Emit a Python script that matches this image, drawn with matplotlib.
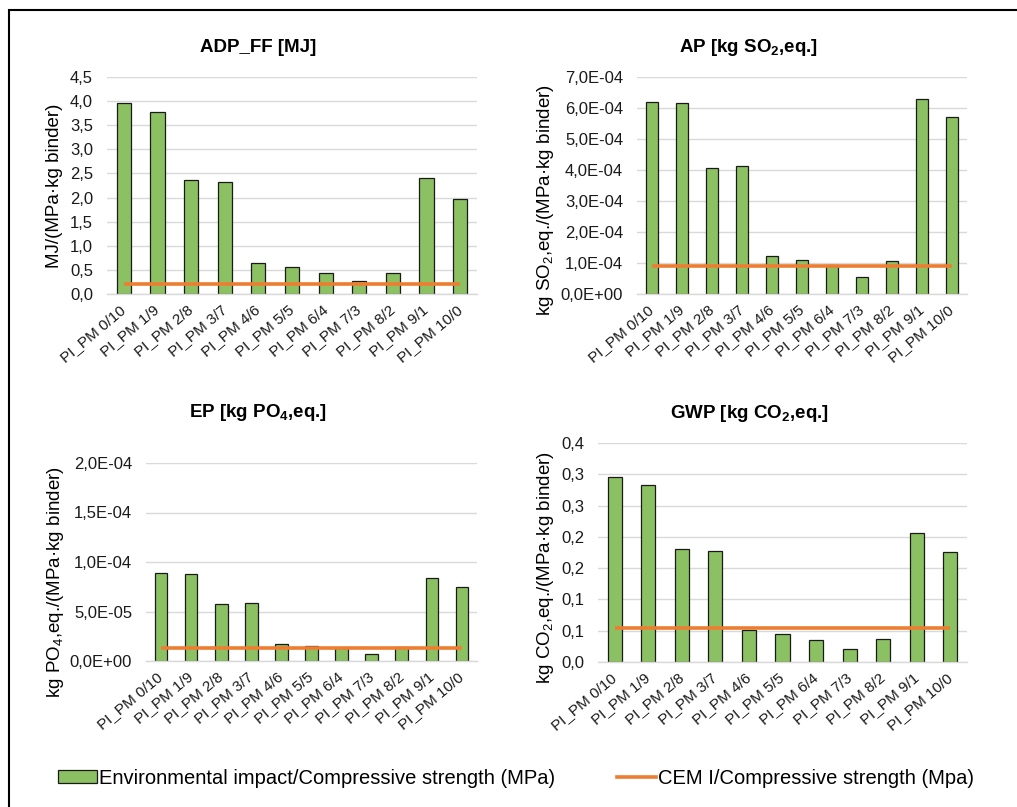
import matplotlib
matplotlib.use("Agg")
import matplotlib.pyplot as plt
from matplotlib.patches import Rectangle, Patch
from matplotlib.lines import Line2D
from matplotlib.ticker import MultipleLocator, FuncFormatter
from decimal import Decimal, ROUND_HALF_UP

plt.rcParams['font.family'] = ['Liberation Sans', 'DejaVu Sans']
plt.rcParams['mathtext.fontset'] = 'custom'
plt.rcParams['mathtext.rm'] = 'Liberation Sans'
plt.rcParams['mathtext.bf'] = 'Liberation Sans:bold'
plt.rcParams['mathtext.it'] = 'Liberation Sans:italic'

# Mixes of PI and PM
categories = ['PI_PM 0/10', 'PI_PM 1/9', 'PI_PM 2/8', 'PI_PM 3/7', 'PI_PM 4/6',
              'PI_PM 5/5', 'PI_PM 6/4', 'PI_PM 7/3', 'PI_PM 8/2', 'PI_PM 9/1',
              'PI_PM 10/0']

# Environmental impact per compressive strength (per MPa and kg binder)
adp_ff = [3.96, 3.77, 2.37, 2.32, 0.65, 0.55, 0.435, 0.26, 0.43, 2.41, 1.98]
ap = [6.19e-4, 6.15e-4, 4.06e-4, 4.13e-4, 1.22e-4, 1.11e-4, 0.92e-4, 0.56e-4,
      1.05e-4, 6.30e-4, 5.70e-4]
ep = [0.889e-4, 0.879e-4, 0.576e-4, 0.583e-4, 0.168e-4, 0.155e-4, 0.132e-4,
      0.074e-4, 0.141e-4, 0.841e-4, 0.751e-4]
gwp = [0.295, 0.283, 0.181, 0.178, 0.051, 0.044, 0.035, 0.021, 0.036, 0.206,
       0.176]

# Reference: CEM I per compressive strength
cem_adp_ff = 0.21
cem_ap = 0.915e-4
cem_ep = 0.131e-4
cem_gwp = 0.055

GREEN = '#8cc163'
ORANGE = '#ed7d31'
GRID = '#d9d9d9'

W, H = 1017, 807
fig = plt.figure(figsize=(W / 100, H / 100), dpi=100)


def px_rect(left, top, right, bottom):
    return [left / W, 1 - bottom / H, (right - left) / W, (bottom - top) / H]


def half_up(v, nd):
    q = Decimal(1).scaleb(-nd)
    return str(Decimal(str(round(float(v), 9))).quantize(q, rounding=ROUND_HALF_UP))


def fmt_dec(v, pos):
    return half_up(v, 1).replace('.', ',')


def fmt_sci(v, pos):
    return f"{float(v):.1E}".replace('.', ',')


panels = [
    dict(vals=adp_ff, ref=cem_adp_ff, rect=px_rect(107, 77, 477, 294),
         ylim=(0, 4.5), step=0.5, fmt=fmt_dec,
         title='ADP_FF [MJ]', title_xy=(258, 47),
         ylabel='MJ/(MPa·kg binder)', ylabel_xy=(55, 186)),
    dict(vals=ap, ref=cem_ap, rect=px_rect(637, 77, 967, 294),
         ylim=(0, 7e-4), step=1e-4, fmt=fmt_sci,
         title=r'AP [kg SO$_{\mathbf{2}}$,eq.]', title_xy=(749, 47),
         ylabel=r'kg SO$_2$,eq./(MPa·kg binder)', ylabel_xy=(546, 200)),
    dict(vals=ep, ref=cem_ep, rect=px_rect(146, 463, 477, 661),
         ylim=(0, 2e-4), step=5e-5, fmt=fmt_sci,
         title=r'EP [kg PO$_{\mathbf{4}}$,eq.]', title_xy=(258, 413),
         ylabel=r'kg PO$_4$,eq./(MPa·kg binder)', ylabel_xy=(55, 582)),
    dict(vals=gwp, ref=cem_gwp, rect=px_rect(598, 443, 967, 662),
         ylim=(0, 0.35), step=0.05, fmt=fmt_dec,
         title=r'GWP [kg CO$_{\mathbf{2}}$,eq.]', title_xy=(749, 414),
         ylabel=r'kg CO$_2$,eq./(MPa·kg binder)', ylabel_xy=(546, 568)),
]

x = list(range(len(categories)))
for p in panels:
    ax = fig.add_axes(p['rect'])
    ax.set_axisbelow(True)
    ax.bar(x, p['vals'], width=0.42, color=GREEN, edgecolor='#1a1a1a',
           linewidth=0.9, zorder=2)
    ax.plot([x[0], x[-1]], [p['ref'], p['ref']], color=ORANGE, lw=2.6,
            solid_capstyle='butt', zorder=3)
    ax.set_xlim(-0.5, len(categories) - 0.5)
    ax.set_ylim(*p['ylim'])
    ax.yaxis.set_major_locator(MultipleLocator(p['step']))
    ax.yaxis.set_major_formatter(FuncFormatter(p['fmt']))
    ax.grid(axis='y', color=GRID, lw=1.0)
    for s in ('left', 'right', 'top'):
        ax.spines[s].set_visible(False)
    ax.spines['bottom'].set_color(GRID)
    ax.spines['bottom'].set_linewidth(1.0)
    ax.tick_params(axis='y', length=0, pad=10, labelsize=12,
                   labelcolor='#1a1a1a')
    ax.tick_params(axis='x', length=0, pad=10, labelsize=11,
                   labelcolor='#1a1a1a')
    ax.set_xticks(x)
    ax.set_xticklabels(categories, rotation=40, ha='right',
                       rotation_mode='anchor', va='center')
    fig.text(p['title_xy'][0] / W, 1 - p['title_xy'][1] / H, p['title'],
             ha='center', va='center', fontsize=13.5, fontweight='bold')
    fig.text(p['ylabel_xy'][0] / W, 1 - p['ylabel_xy'][1] / H, p['ylabel'],
             ha='center', va='center', rotation=90, fontsize=13.5)

# Outer chart frame
fig.add_artist(Rectangle((9 / W, -0.1), 1.2, 1 - 10 / H + 0.1,
                         transform=fig.transFigure, fill=False, lw=1.5,
                         ec='black'))

handles = [Patch(facecolor=GREEN, edgecolor='#1a1a1a', linewidth=0.9),
           Line2D([0], [0], color=ORANGE, lw=2.6)]
labels = ['Environmental impact/Compressive strength (MPa)',
          'CEM I/Compressive strength (Mpa)']
fig.legend(handles, labels, loc='center', bbox_to_anchor=(516 / W, 1 - 778 / H),
           ncol=2, frameon=False, handlelength=1.9, handleheight=0.6,
           handletextpad=0.1, columnspacing=3.1,
           prop={'size': 14.5})

fig.savefig('out.png', dpi=100)
